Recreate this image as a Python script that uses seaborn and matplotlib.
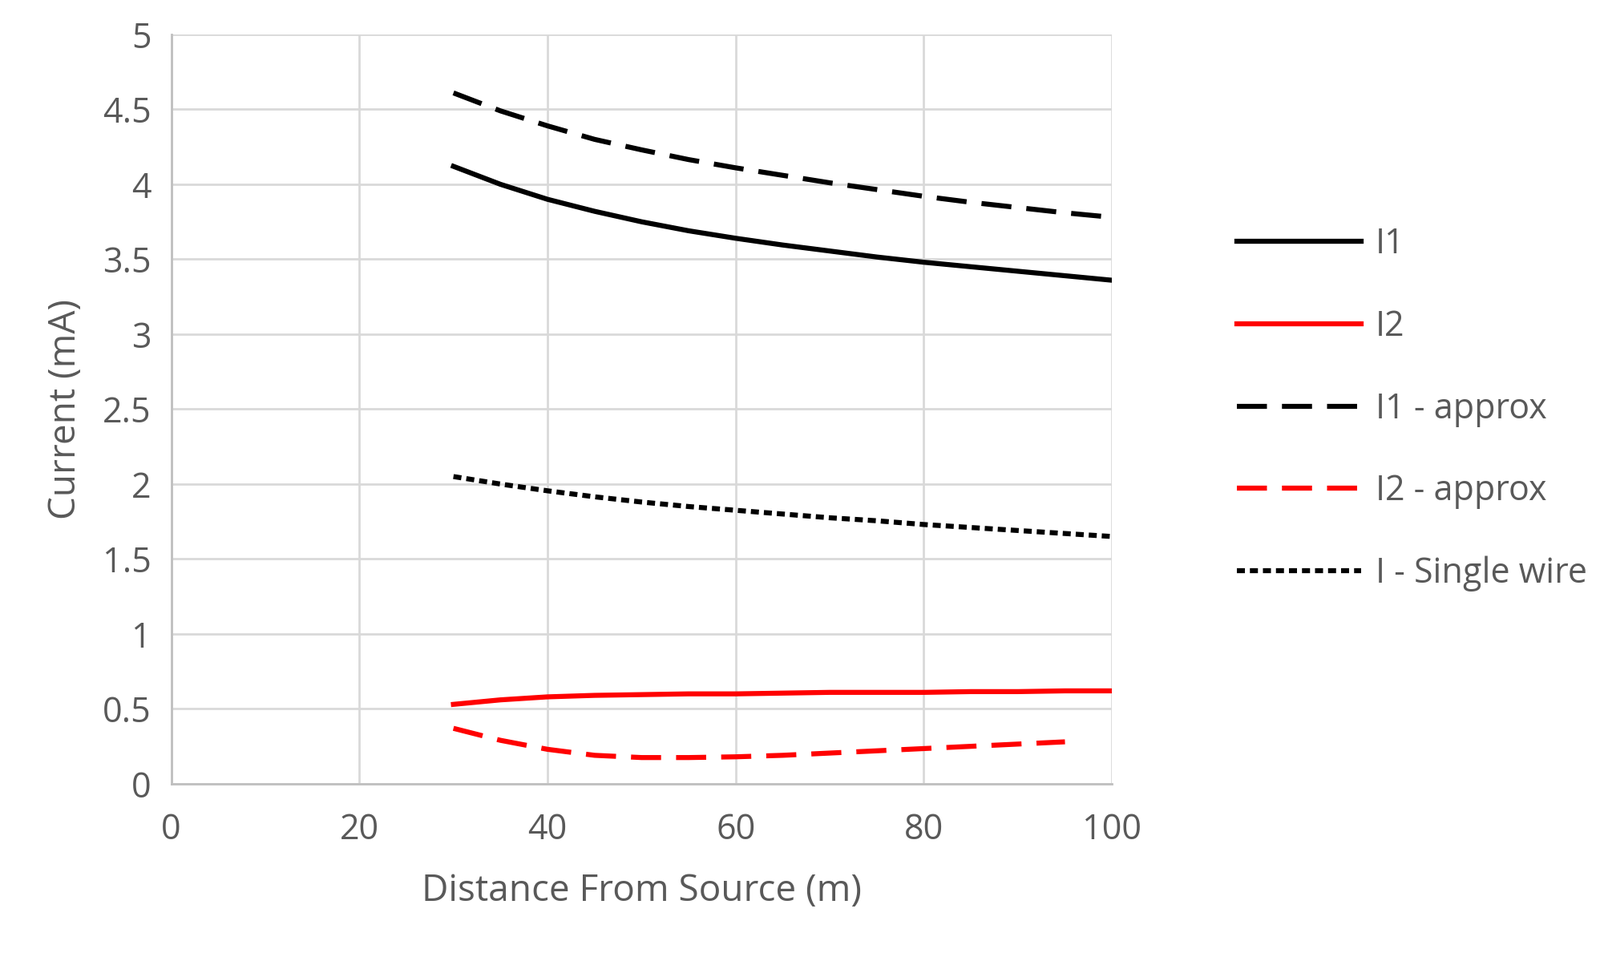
import matplotlib
matplotlib.use("Agg")
import matplotlib.pyplot as plt
import seaborn as sns
import numpy as np
import pandas as pd

x = [30, 35, 40, 45, 50, 55, 60, 65, 70, 75, 80, 85, 90, 95, 100]
i1 = [4.12, 4.0, 3.9, 3.82, 3.75, 3.69, 3.64, 3.595, 3.555, 3.515, 3.48, 3.45, 3.42, 3.39, 3.36]
i2 = [0.53, 0.56, 0.58, 0.59, 0.595, 0.6, 0.6, 0.605, 0.61, 0.61, 0.61, 0.615, 0.615, 0.62, 0.62]
i1_approx = [4.61, 4.49, 4.39, 4.3, 4.23, 4.165, 4.11, 4.06, 4.01, 3.965, 3.92, 3.88, 3.845, 3.81, 3.78]
i2_approx = [0.37, 0.29, 0.23, 0.19, 0.175, 0.175, 0.18, 0.19, 0.205, 0.22, 0.235, 0.25, 0.265, 0.28, np.nan]
i_single = [2.05, 2.0, 1.955, 1.915, 1.88, 1.85, 1.825, 1.8, 1.775, 1.755, 1.73, 1.71, 1.69, 1.67, 1.65]

series = [("I1", i1, "black", "-"),
          ("I2", i2, "red", "-"),
          ("I1 - approx", i1_approx, "black", (0, (6, 3))),
          ("I2 - approx", i2_approx, "red", (0, (6, 3))),
          ("I - Single wire", i_single, "black", (0, (1.6, 1.0)))]

plt.rcParams["font.family"] = "Open Sans"
fig = plt.figure(figsize=(19.96, 11.94), dpi=100)
ax = fig.add_axes([0.107, 0.181, 0.588, 0.783])
for name, vals, c, ls in series:
    df = pd.DataFrame({"x": x, "y": vals}).dropna()
    sns.lineplot(data=df, x="x", y="y", ax=ax, color=c, linestyle=ls, lw=4.5, label=name)

ax.set_xlim(0, 100)
ax.set_ylim(0, 5)
ax.set_xticks(range(0, 101, 20))
ax.set_yticks(np.arange(0, 5.01, 0.5))
ax.set_yticklabels(["0", "0.5", "1", "1.5", "2", "2.5", "3", "3.5", "4", "4.5", "5"])
ax.grid(True, color="#d9d9d9", lw=2)
ax.set_axisbelow(True)
for s in ["top", "right"]:
    ax.spines[s].set_visible(False)
for s in ["left", "bottom"]:
    ax.spines[s].set_color("#bfbfbf")
    ax.spines[s].set_linewidth(2)
ax.tick_params(length=0, labelsize=31, colors="#595959")
ax.tick_params(axis="x", pad=26)
ax.tick_params(axis="y", pad=18)
ax.set_xlabel("Distance From Source (m)", fontsize=33, color="#595959", labelpad=22)
ax.set_ylabel("Current (mA)", fontsize=33, color="#595959", labelpad=16)
leg = ax.legend(loc="center left", bbox_to_anchor=(1.1, 0.5), frameon=False,
                fontsize=31, handlelength=3.6, labelspacing=1.35, handletextpad=0.4)
for t in leg.get_texts():
    t.set_color("#595959")
fig.savefig("out.png", dpi=100)
